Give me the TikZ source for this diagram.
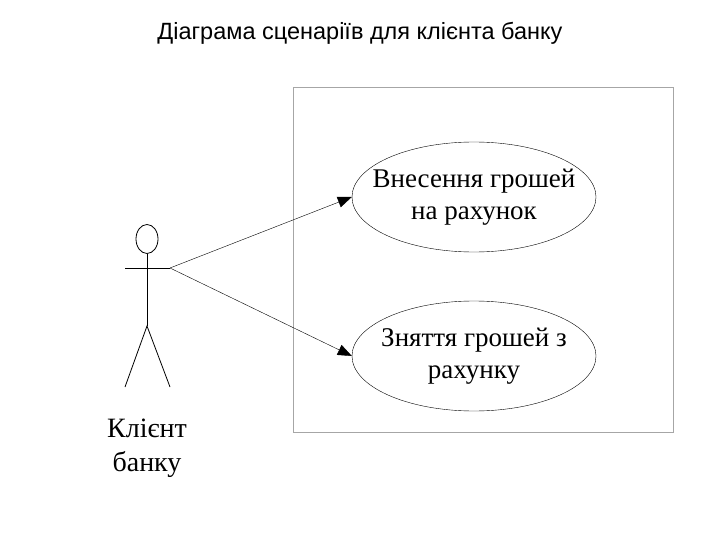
\documentclass[tikz,border=0pt]{standalone}
\usepackage{fontspec}
\setmainfont{Liberation Serif}
\newfontfamily\titlefont{Liberation Sans}
\usetikzlibrary{shapes.geometric,arrows.meta}
\begin{document}
\begin{tikzpicture}[x=1pt,y=-1pt,
  uc/.style={draw,ellipse,minimum width=244pt,minimum height=110pt,align=center,font=\fontsize{27}{32}\selectfont,inner xsep=-16pt,inner ysep=0pt},
  conn/.style={draw,line width=0.4pt,-{Triangle[length=14pt,width=11pt]}},
  stroke/.style={line width=0.8pt}]
\useasboundingbox (0,0) rectangle (720,540);
\node[font=\titlefont\fontsize{23.5}{28}\selectfont] (title) at (360,33) {Діаграма сценаріїв для клієнта банку};
\node[draw=gray!70,minimum width=380pt,minimum height=345pt,inner sep=0pt] (sys) at (483,259.5) {};
\node[uc] (u1) at (474,197) {Внесення грошей\\на рахунок};
\node[uc] (u2) at (474,356) {Зняття грошей з\\рахунку};
\node[draw,stroke,ellipse,minimum width=22pt,minimum height=29pt,inner sep=0pt] (head) at (147,239) {};
\coordinate (hip) at (147,326);
\coordinate (la) at (125,268);
\coordinate (ra) at (170,268);
\coordinate (ll) at (125,387);
\coordinate (rl) at (170,387);
\draw[stroke] (head.south) -- (hip);
\draw[stroke] (la) -- (ra);
\draw[stroke] (ll) -- (hip) -- (rl);
\draw[conn] (ra) -- (u1.west);
\draw[conn] (ra) -- (u2.west);
\node[align=center,font=\fontsize{28}{34}\selectfont] (lbl) at (147,448) {Клієнт\\ банку};
\end{tikzpicture}
\end{document}
